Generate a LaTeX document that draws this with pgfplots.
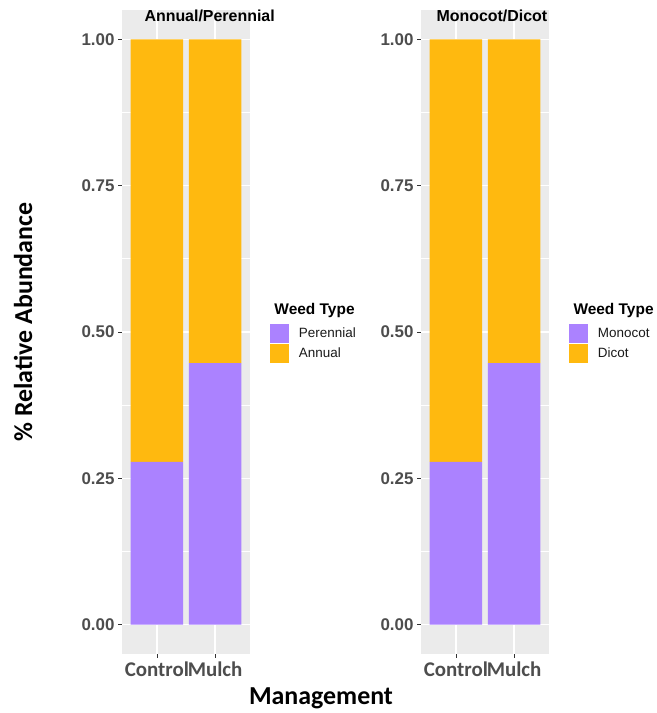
\documentclass[border=0pt]{standalone}
\usepackage{pgfplots}
\pgfplotsset{compat=1.18}
\usepackage{fontspec}
\setmainfont{Liberation Sans}
\newfontfamily\calibri{Carlito}

\definecolor{ggbg}{HTML}{EBEBEB}
\definecolor{perc}{HTML}{AB82FF}
\definecolor{annc}{HTML}{FFB90F}
\definecolor{ticklab}{HTML}{4D4D4D}
\definecolor{tickmark}{HTML}{333333}

% shared look of both facets
\pgfplotsset{
  weedpanel/.style={
    scale only axis, width=128bp, height=644bp,
    anchor=south west,
    xmin=0.4, xmax=2.6, ymin=-0.05, ymax=1.05,
    ybar stacked, bar width=0.9,
    axis background/.style={fill=ggbg},
    axis line style={draw=none},
    xtick={1,2}, xticklabels={Control,Mulch},
    ytick={0,0.25,0.5,0.75,1},
    yticklabels={0.00,0.25,0.50,0.75,1.00},
    minor ytick={0.125,0.375,0.625,0.875},
    xmajorgrids, ymajorgrids, yminorgrids,
    major grid style={white, line width=1.4bp},
    minor grid style={white, line width=0.7bp},
    tick align=outside, xtick pos=bottom, ytick pos=left,
    major tick length=4bp, minor tick length=0pt,
    tick style={tickmark, line width=0.8bp},
    yticklabel style={font=\fontsize{17}{17}\selectfont\bfseries, text=ticklab},
    xticklabel style={font=\calibri\bfseries\fontsize{21}{21}\selectfont, text=ticklab},
    legend image code/.code={\fill[##1] (0bp,-9.5bp) rectangle (19bp,9.5bp); \path (29bp,0bp);},
    legend cell align=left,
    legend style={at={(1.156,0.512)}, anchor=north west, draw=none, fill=none,
      inner sep=0pt, outer sep=0pt, row sep=1bp,
      font=\fontsize{13.5}{13.5}\selectfont, text=black!90,
      nodes={inner sep=0pt, outer sep=0pt}},
  },
}
\tikzset{
  legtitle/.style={anchor=base west, font=\bfseries\fontsize{15.5}{15.5}\selectfont},
  facettitle/.style={anchor=base west, font=\bfseries\fontsize{16}{16}\selectfont},
}

\begin{document}
\begin{tikzpicture}[x=1bp, y=1bp]
\useasboundingbox (0,0) rectangle (657,713);

% Annual / Perennial
\begin{axis}[weedpanel, at={(122bp,59bp)}, legend style={name=legL}]
  \addplot[fill=perc, draw=none] coordinates {(1,0.278) (2,0.447)};
  \addlegendentry{Perennial}
  \addplot[fill=annc, draw=none] coordinates {(1,0.722) (2,0.553)};
  \addlegendentry{Annual}
\end{axis}

% Monocot / Dicot
\begin{axis}[weedpanel, at={(421bp,59bp)}, legend style={name=legR}]
  \addplot[fill=perc, draw=none] coordinates {(1,0.278) (2,0.447)};
  \addlegendentry{Monocot}
  \addplot[fill=annc, draw=none] coordinates {(1,0.722) (2,0.553)};
  \addlegendentry{Dicot}
\end{axis}

\node[legtitle] at ([xshift=1bp, yshift=10bp]legL.north west) {Weed Type};
\node[legtitle] at ([xshift=1bp, yshift=10bp]legR.north west) {Weed Type};

\node[facettitle] at (141,691) {Annual/Perennial};
\node[facettitle] at (433,691) {Monocot/Dicot};

\node[rotate=90, anchor=base, font=\calibri\bfseries\fontsize{26}{26}\selectfont] at (32,391) {\% Relative Abundance};
\node[anchor=base, font=\calibri\bfseries\fontsize{26}{26}\selectfont] at (321,8) {Management};
\end{tikzpicture}
\end{document}
